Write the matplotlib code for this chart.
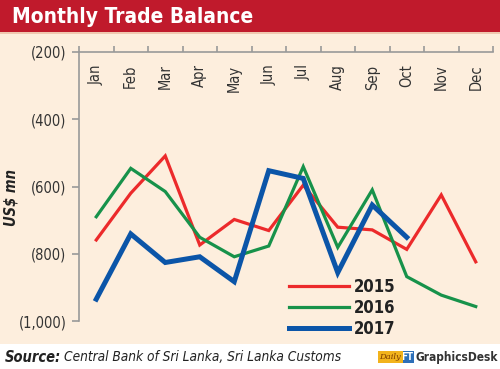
import matplotlib.pyplot as plt
from matplotlib.patches import Rectangle
from matplotlib.lines import Line2D
from matplotlib import font_manager

# monthly trade balance, US$ mn (deficits are negative)
months = ["Jan", "Feb", "Mar", "Apr", "May", "Jun", "Jul", "Aug", "Sep", "Oct", "Nov", "Dec"]
bal2015 = [-759, -620, -509, -774, -698, -731, -596, -721, -729, -787, -625, -824]
bal2016 = [-690, -546, -615, -751, -809, -777, -541, -781, -610, -868, -923, -957]
bal2017 = [-935, -741, -826, -809, -883, -553, -576, -856, -655, -751]
yticks = [-200, -400, -600, -800, -1000]
ytick_labels = ["(200)", "(400)", "(600)", "(800)", "(1,000)"]

bg = "#fdeedd"
red = "#ec2a2b"
green = "#17924a"
blue = "#0b55a8"
cond = dict(family="DejaVu Sans", stretch="condensed")

fig = plt.figure(figsize=(5.0, 3.69), dpi=100)
fig.patch.set_facecolor(bg)

# title banner and bottom strip
fig.add_artist(Rectangle((0, 1 - 32 / 369), 1, 32 / 369, transform=fig.transFigure,
                         facecolor="#c01a2c", edgecolor="none"))
fig.add_artist(Rectangle((0, 1 - 34 / 369), 1, 2 / 369, transform=fig.transFigure,
                         facecolor="#f0c8b0", edgecolor="none"))
fig.add_artist(Rectangle((0, 0), 1, 25 / 369, transform=fig.transFigure,
                         facecolor="white", edgecolor="none"))
fig.text(0.024, 1 - 17 / 369, "Monthly Trade Balance", color="white", fontsize=15,
         fontweight="bold", va="center", ha="left", **cond)

ax = fig.add_axes([79 / 500, 48 / 369, 414 / 500, 269 / 369])
ax.set_facecolor(bg)
x = list(range(len(months)))
ax.plot(x, bal2015, color=red, lw=2.3, solid_joinstyle="miter")
ax.plot(x, bal2016, color=green, lw=2.3, solid_joinstyle="miter")
ax.plot(x[:len(bal2017)], bal2017, color=blue, lw=3.6, solid_joinstyle="miter")

ax.set_xlim(-0.5, 11.5)
ax.set_ylim(-1000, -200)
ax.set_yticks(yticks)
ax.set_yticklabels(ytick_labels, fontsize=10.5, color="#333333", **cond)
ax.tick_params(axis="y", length=5, width=1.2, color="#999999", pad=4)

ax.set_xticks([i - 0.5 for i in range(13)])
ax.set_xticklabels([])
ax.xaxis.set_ticks_position("top")
ax.tick_params(axis="x", length=4, width=1.2, color="#999999", direction="out")
for i, m in enumerate(months):
    ax.text(i, -237, m, rotation=90, ha="center", va="top",
            fontsize=10.5, color="#333333", **cond)

for s in ["right", "bottom"]:
    ax.spines[s].set_visible(False)
for s in ["left", "top"]:
    ax.spines[s].set_color("#999999")
    ax.spines[s].set_linewidth(1.2)

fig.text(0.022, 1 - 197 / 369, "US$ mn", rotation=90, ha="center", va="center",
         fontsize=10.5, fontweight="bold", style="italic", color="#222222", **cond)

# legend
handles = [Line2D([], [], color=red, lw=2.3), Line2D([], [], color=green, lw=2.3),
           Line2D([], [], color=blue, lw=3.6)]
leg = fig.legend(handles, ["2015", "2016", "2017"], loc="lower left",
                 bbox_to_anchor=(274 / 500, 16 / 369), frameon=False, handlelength=3.6,
                 handletextpad=0.3, labelspacing=0.18,
                 prop=font_manager.FontProperties(weight="bold", size=12, **cond))
for t in leg.get_texts():
    t.set_color("#222222")

# source line
renderer = fig.canvas.get_renderer()
src = fig.text(0.01, 12 / 369, "Source:", fontsize=10.5, fontweight="bold", style="italic",
               va="center", color="#222222", **cond)
w = src.get_window_extent(renderer).width / fig.bbox.width
fig.text(0.01 + w + 0.006, 12 / 369, "Central Bank of Sri Lanka, Sri Lanka Customs",
         fontsize=9.8, style="italic", va="center", color="#222222", **cond)

# logo
gd = fig.text(0.995, 12 / 369, "GraphicsDesk", fontsize=8.6, fontweight="bold",
              ha="right", va="center", color="#333333", **cond)
gx = gd.get_window_extent(renderer).x0 / fig.bbox.width
fig.text(gx - 0.004, 12 / 369, "FT", fontsize=7, fontweight="bold",
         ha="right", va="center", color="white",
         bbox=dict(facecolor="#2d6fb8", edgecolor="none", pad=0.8), **cond)
fig.text(gx - 0.028, 12 / 369, "Daily", fontsize=6, style="italic", family="DejaVu Serif",
         ha="right", va="center", color="#7a3a00",
         bbox=dict(facecolor="#f2b31c", edgecolor="none", pad=1.2))

fig.savefig("out.png", dpi=100, facecolor=fig.get_facecolor())
